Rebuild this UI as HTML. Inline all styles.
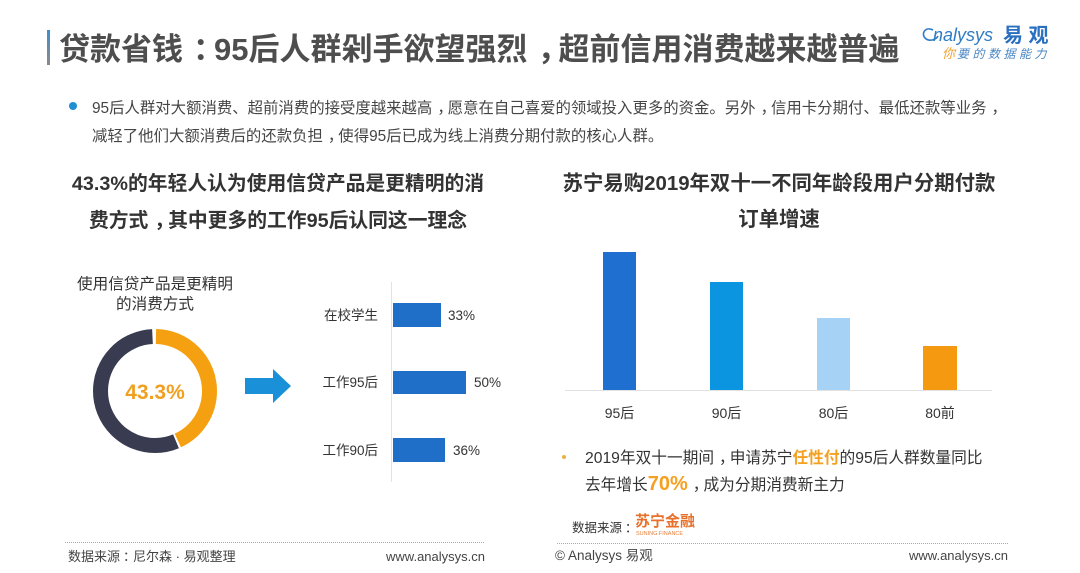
<!DOCTYPE html>
<html>
<head>
<meta charset="utf-8">
<style>
html,body{margin:0;padding:0;background:#fff;}
svg{display:block;}
text{font-family:"Liberation Sans","Noto Sans CJK SC",sans-serif;}
</style>
</head>
<body>
<svg width="1080" height="573" viewBox="0 0 1080 573" xmlns="http://www.w3.org/2000/svg">
<defs>
<linearGradient id="acc" x1="0" y1="0" x2="0" y2="1">
<stop offset="0" stop-color="#3a8fd2"/>
<stop offset="0.5" stop-color="#6a8aa8"/>
<stop offset="1" stop-color="#8a8a8a"/>
</linearGradient>
</defs>
<rect width="1080" height="573" fill="#fff"/>

<!-- Title -->
<rect x="47" y="30" width="3" height="35" fill="url(#acc)"/>
<text x="59" y="60" font-size="31" font-weight="bold" fill="#4e4e4e">贷款省钱<tspan dx="10">：</tspan><tspan dx="-10">9</tspan>5后人群剁手欲望强烈<tspan dx="10">，</tspan><tspan dx="-10">超</tspan>前信用消费越来越普遍</text>

<!-- Logo -->
<path d="M933 30 C925 26 921 34 925 38 C929 42 936 40 938 36" fill="none" stroke="#2f7cc4" stroke-width="1.6"/>
<text x="933" y="41" font-size="18" font-style="italic" fill="#2f7cc4">nalysys</text>
<text x="1003" y="42" font-size="20" font-weight="bold" fill="#2a6fc0">易 观</text>
<text x="942" y="58" font-size="13" font-style="italic" fill="#f0a030">你</text>
<text x="957" y="58" font-size="12" font-style="italic" fill="#4a86c4" letter-spacing="3.5">要的数据能力</text>

<!-- Bullet paragraph -->
<circle cx="73" cy="106" r="4" fill="#1e8fd2"/>
<text x="92" y="113" font-size="15.4" fill="#454545">95后人群对大额消费、超前消费的接受度越来越高<tspan dx="5">，</tspan><tspan dx="-5">愿</tspan>意在自己喜爱的领域投入更多的资金。另外<tspan dx="5">，</tspan><tspan dx="-5">信</tspan>用卡分期付、最低还款等业务<tspan dx="5">，</tspan></text>
<text x="92" y="141" font-size="15.4" fill="#454545">减轻了他们大额消费后的还款负担<tspan dx="5">，</tspan><tspan dx="-5">使</tspan>得95后已成为线上消费分期付款的核心人群。</text>

<!-- Left heading -->
<text x="278" y="190" font-size="19.8" font-weight="bold" fill="#333" text-anchor="middle">43.3%的年轻人认为使用信贷产品是更精明的消</text>
<text x="278" y="227" font-size="19.8" font-weight="bold" fill="#333" text-anchor="middle">费方式<tspan dx="6">，</tspan><tspan dx="-6">其</tspan>中更多的工作95后认同这一理念</text>

<!-- Right heading -->
<text x="779" y="190" font-size="20.4" font-weight="bold" fill="#333" text-anchor="middle">苏宁易购2019年双十一不同年龄段用户分期付款</text>
<text x="779" y="226" font-size="20.4" font-weight="bold" fill="#333" text-anchor="middle">订单增速</text>

<!-- Donut label -->
<text x="155" y="289" font-size="15.6" fill="#333" text-anchor="middle">使用信贷产品是更精明</text>
<text x="155" y="309" font-size="15.6" fill="#333" text-anchor="middle">的消费方式</text>

<!-- Donut -->
<circle cx="155" cy="391" r="54.5" fill="none" stroke="#393b50" stroke-width="15" stroke-dasharray="190 400" stroke-dashoffset="-149.5" transform="rotate(-90 155 391)"/>
<circle cx="155" cy="391" r="54.5" fill="none" stroke="#f5a010" stroke-width="15" stroke-dasharray="146.5 400" stroke-dashoffset="-1" transform="rotate(-90 155 391)"/>
<text x="155" y="399" font-size="21" font-weight="bold" fill="#f0a020" text-anchor="middle">43.3%</text>

<!-- Arrow -->
<polygon points="245,378 273,378 273,369 291,386 273,403 273,394 245,394" fill="#1a90d8"/>

<!-- Left bar chart -->
<line x1="391.5" y1="282" x2="391.5" y2="482" stroke="#e2e2e2" stroke-width="1"/>
<rect x="393" y="303" width="48" height="24" fill="#1f6fc8"/>
<rect x="393" y="371" width="73" height="23" fill="#1f6fc8"/>
<rect x="393" y="438" width="52" height="24" fill="#1f6fc8"/>
<text x="378" y="320" font-size="13.5" fill="#333" text-anchor="end">在校学生</text>
<text x="378" y="387" font-size="13.5" fill="#333" text-anchor="end">工作95后</text>
<text x="378" y="455" font-size="13.5" fill="#333" text-anchor="end">工作90后</text>
<text x="448" y="320" font-size="13.5" fill="#333">33%</text>
<text x="474" y="387" font-size="13.5" fill="#333">50%</text>
<text x="453" y="455" font-size="13.5" fill="#333">36%</text>

<!-- Right bar chart -->
<line x1="565" y1="390.5" x2="992" y2="390.5" stroke="#e2e2e2" stroke-width="1"/>
<rect x="603" y="252" width="33" height="138" fill="#1e6fcf"/>
<rect x="710" y="282" width="33" height="108" fill="#0b95e0"/>
<rect x="817" y="318" width="33" height="72" fill="#a6d2f5"/>
<rect x="923" y="346" width="34" height="44" fill="#f59a10"/>
<text x="619.5" y="418" font-size="14" fill="#333" text-anchor="middle">95后</text>
<text x="726.5" y="418" font-size="14" fill="#333" text-anchor="middle">90后</text>
<text x="833.5" y="418" font-size="14" fill="#333" text-anchor="middle">80后</text>
<text x="940" y="418" font-size="14" fill="#333" text-anchor="middle">80前</text>

<!-- Right bullet -->
<circle cx="564" cy="457" r="2" fill="#f0b040"/>
<text x="585" y="463" font-size="15.7" fill="#333">2019年双十一期间<tspan dx="5">，</tspan><tspan dx="-5">申</tspan>请苏宁<tspan fill="#f5a020" font-weight="bold">任性付</tspan>的95后人群数量同比</text>
<text x="585" y="490" font-size="15.7" fill="#333">去年增长<tspan fill="#f5a020" font-weight="bold" font-size="20">70%</tspan><tspan dx="5">，</tspan><tspan dx="-5">成</tspan>为分期消费新主力</text>

<!-- Suning source -->
<text x="572" y="532" font-size="12.5" fill="#333">数据来源<tspan dx="3">：</tspan></text>
<text x="635" y="526" font-size="15" font-weight="bold" fill="#e8702a">苏宁金融</text>
<text x="636" y="535" font-size="5.5" fill="#e8803a">SUNING FINANCE</text>

<!-- Footers -->
<line x1="65" y1="542.5" x2="485" y2="542.5" stroke="#aaa" stroke-width="1" stroke-dasharray="1 1"/>
<line x1="557" y1="543.5" x2="1008" y2="543.5" stroke="#aaa" stroke-width="1" stroke-dasharray="1 1"/>
<text x="68" y="561" font-size="13" fill="#444">数据来源<tspan dx="3">：</tspan><tspan dx="-3">尼</tspan>尔森 · 易观整理</text>
<text x="485" y="561" font-size="13" fill="#444" text-anchor="end">www.analysys.cn</text>
<text x="555" y="560" font-size="13.5" fill="#444">© Analysys 易观</text>
<text x="1008" y="560" font-size="13" fill="#444" text-anchor="end">www.analysys.cn</text>
</svg>
</body>
</html>
